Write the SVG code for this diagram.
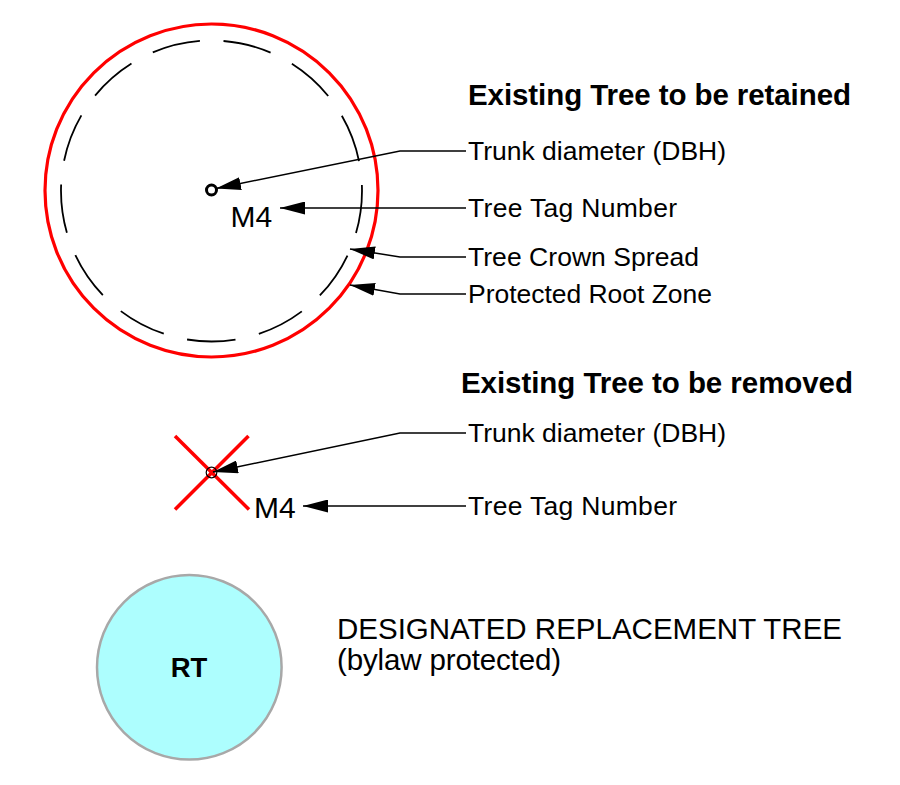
<svg xmlns="http://www.w3.org/2000/svg" width="900" height="785" viewBox="0 0 900 785">
<defs>
<style>
.t{font-family:"Liberation Sans",Arial,sans-serif;fill:#000}
.h{font-size:29.5px;font-weight:bold}
.l{font-size:26.5px}
.lead{fill:none;stroke:#000;stroke-width:1.5;marker-end:url(#ah)}
.red{stroke:#ff0000;fill:none}
</style>
<marker id="ah" viewBox="0 0 25 13" refX="25" refY="6.5" markerWidth="25" markerHeight="13" markerUnits="userSpaceOnUse" orient="auto">
<path d="M0,0 L25,6.5 L0,13 z" fill="#000"/>
</marker>
</defs>
<rect width="900" height="785" fill="#fff"/>
<g id="tree-retained">
<circle cx="211.5" cy="190.5" r="166.5" class="red" stroke-width="3.2"/>
<path d="M211.5,40.5 A150.5,150.5 0 0 1 211.5,341.5 A150.5,150.5 0 0 1 211.5,40.5" fill="none" stroke="#000" stroke-width="1.8" stroke-dasharray="48.7 24.04" stroke-dashoffset="60.7"/>
<circle cx="211.5" cy="190" r="5" fill="none" stroke="#000" stroke-width="3"/>
<text class="t" x="230.5" y="227" font-size="30">M4</text>
</g>
<g id="legend-retained">
<text class="t h" x="468" y="105" textLength="383">Existing Tree to be retained</text>
<text class="t l" x="468" y="160" textLength="258">Trunk diameter (DBH)</text>
<text class="t l" x="468" y="217" textLength="209">Tree Tag Number</text>
<text class="t l" x="468" y="266" textLength="231">Tree Crown Spread</text>
<text class="t l" x="468" y="303" textLength="244">Protected Root Zone</text>
</g>
<g id="tree-removed">
<line x1="175" y1="436" x2="249" y2="509.5" class="red" stroke-width="3.5"/>
<line x1="248.5" y1="436" x2="175" y2="509.5" class="red" stroke-width="3.5"/>
<circle cx="211.5" cy="472.5" r="5.3" fill="none" stroke="#000" stroke-width="1.2"/>
<text class="t" x="254" y="518" font-size="30">M4</text>
</g>
<g id="legend-removed">
<text class="t h" x="461" y="393" textLength="392">Existing Tree to be removed</text>
<text class="t l" x="468" y="442" textLength="258">Trunk diameter (DBH)</text>
<text class="t l" x="468" y="515" textLength="209">Tree Tag Number</text>
</g>
<g id="replacement-tree">
<circle cx="189.3" cy="667.3" r="92.3" fill="#adfefe" stroke="#a8a8a8" stroke-width="2.5"/>
<text class="t" x="189" y="677" font-size="27.5" font-weight="bold" text-anchor="middle">RT</text>
<text class="t" x="337" y="639" font-size="29.5" textLength="505">DESIGNATED REPLACEMENT TREE</text>
<text class="t" x="337" y="670" font-size="29.5" textLength="224">(bylaw protected)</text>
</g>
<g id="connectors">
<polyline class="lead" points="466,151 400,151 216,188.5"/>
<polyline class="lead" points="466,208 280,208"/>
<polyline class="lead" points="466,257 400,257 350,249"/>
<polyline class="lead" points="466,294 400,294 350,285"/>
<polyline class="lead" points="466,433 400,433 213,472"/>
<polyline class="lead" points="466,506 303,506"/>
</g>
</svg>
